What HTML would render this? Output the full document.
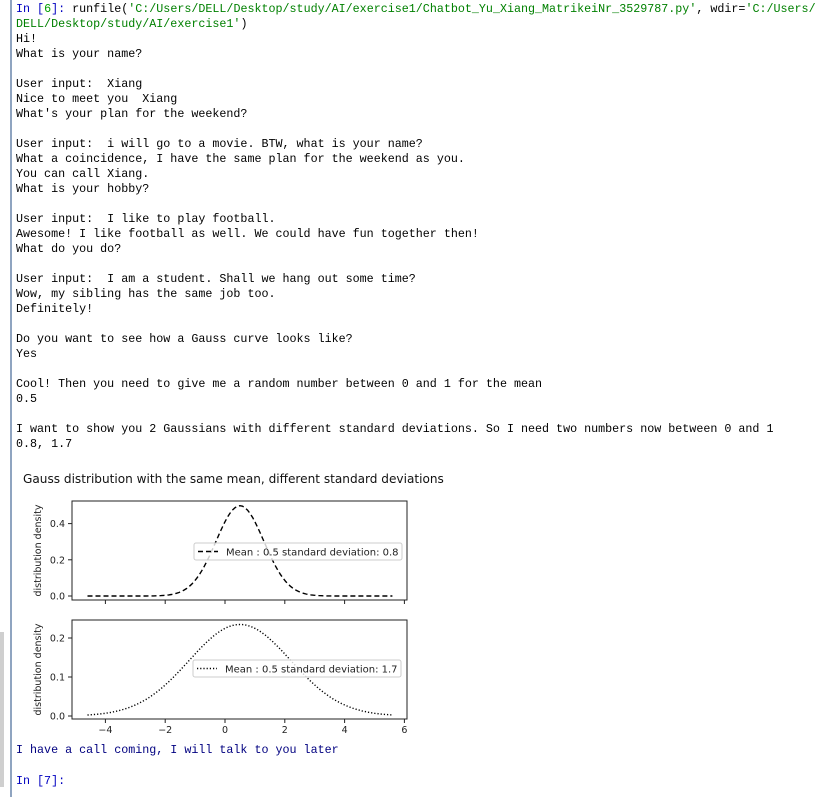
<!DOCTYPE html>
<html><head><meta charset="utf-8"><style>
body{margin:0;width:819px;height:797px;background:#fff;position:relative;overflow:hidden}
.l{position:absolute;left:16px;font-family:"Liberation Mono",monospace;font-size:11.7px;line-height:15px;white-space:pre;color:#000}
.g{color:#008000}.b{color:#0000c0}
</style></head><body>
<div style="position:absolute;left:10px;top:0;width:2px;height:797px;background:#8fa4c0"></div>
<div style="position:absolute;left:0;top:632px;width:4px;height:155px;background:#cfcfcf"></div>
<div>
<div class="l" style="top:2px"><span class="b">In [</span><span style="color:#00a000">6</span><span class="b">]:</span> runfile(<span class="g">'C:/Users/DELL/Desktop/study/AI/exercise1/Chatbot_Yu_Xiang_MatrikeiNr_3529787.py'</span>, wdir=<span class="g">'C:/Users/</span></div>
<div class="l" style="top:17px"><span class="g">DELL/Desktop/study/AI/exercise1'</span>)</div>
<div class="l" style="top:32px">Hi!
What is your name?

User input:  Xiang
Nice to meet you  Xiang
What's your plan for the weekend?

User input:  i will go to a movie. BTW, what is your name?
What a coincidence, I have the same plan for the weekend as you.
You can call Xiang.
What is your hobby?

User input:  I like to play football.
Awesome! I like football as well. We could have fun together then!
What do you do?

User input:  I am a student. Shall we hang out some time?
Wow, my sibling has the same job too.
Definitely!

Do you want to see how a Gauss curve looks like?
Yes

Cool! Then you need to give me a random number between 0 and 1 for the mean
0.5

I want to show you 2 Gaussians with different standard deviations. So I need two numbers now between 0 and 1
0.8, 1.7</div>
<div class="l" style="top:743px;color:#000080">I have a call coming, I will talk to you later</div>
<div class="l b" style="top:774px">In [7]:</div>
</div>
<svg id="chart" width="819" height="797" style="position:absolute;left:0;top:0" font-family="DejaVu Sans, sans-serif">
<text x="23" y="483" font-size="12.1" fill="#111">Gauss distribution with the same mean, different standard deviations</text>
</svg>
<script>
const means=[0.5,0.5];
const stds=[0.8,1.7];
const legendLabels=["Mean : 0.5 standard deviation: 0.8","Mean : 0.5 standard deviation: 1.7"];
const xTicks=[-4,-2,0,2,4,6];
const yTicks1=[0.0,0.2,0.4];
const yTicks2=[0.0,0.1,0.2];
const xRange=[-4.6,5.6];
const NS="http://www.w3.org/2000/svg",svg=document.getElementById('chart');
function mk(t,a,p){const e=document.createElementNS(NS,t);for(const k in a)e.setAttribute(k,a[k]);(p||svg).appendChild(e);return e;}
const sx=v=>225+v*29.9;
const panels=[{top:501,bot:600,y0:596,k:181,ticks:yTicks1,dash:"5,3",showX:false,lx:194,ly:543},
{top:620,bot:719,y0:716,k:390,ticks:yTicks2,dash:"1.2,2",showX:true,lx:193,ly:660}];
panels.forEach((p,i)=>{
 const sy=v=>p.y0-v*p.k;
 const g=mk('g',{});
 
 
 const fr=mk('rect',{x:72,y:p.top,width:335,height:p.bot-p.top,fill:'none',stroke:'#222','stroke-width':1},g);
 
 
 p.ticks.forEach(t=>{
  mk('line',{x1:68,x2:72,y1:sy(t),y2:sy(t),stroke:'#222'},g);
  const tx=mk('text',{x:65,y:sy(t)+3.5,'font-size':9.5,'text-anchor':'end',fill:'#222'},g);
  tx.textContent=t.toFixed(1);
  
  
 });
 xTicks.forEach(t=>{
  mk('line',{x1:sx(t),x2:sx(t),y1:p.bot,y2:p.bot+4,stroke:'#222'},g);
  if(p.showX){const tx=mk('text',{x:sx(t),y:p.bot+14,'font-size':9.5,'text-anchor':'middle',fill:'#222'},g);
   tx.textContent=t<0?'\u2212'+(-t):String(t);
   
   }
 });
 const yl=mk('text',{transform:`translate(41,${(p.top+p.bot)/2}) rotate(-90)`,'font-size':9.5,'text-anchor':'middle',fill:'#222'},g);
 yl.textContent='distribution density';
 
 
 let d='';const n=120;
 for(let j=0;j<=n;j++){const x=xRange[0]+(xRange[1]-xRange[0])*j/n;
  const y=Math.exp(-0.5*((x-means[i])/stds[i])**2)/(stds[i]*Math.sqrt(2*Math.PI));
  d+=(j?'L':'M')+sx(x).toFixed(1)+','+sy(y).toFixed(1);}
 const c=mk('path',{d:d,fill:'none',stroke:'#000','stroke-width':1.4,'stroke-dasharray':p.dash},g);
 
 
 const lg=mk('g',{},g);
 
 
 mk('rect',{x:p.lx,y:p.ly,width:208,height:17,rx:2,fill:'#fff','fill-opacity':0.8,stroke:'#ccc'},lg);
 mk('line',{x1:p.lx+4,x2:p.lx+24,y1:p.ly+8.5,y2:p.ly+8.5,stroke:'#000','stroke-width':1.4,'stroke-dasharray':p.dash},lg);
 const lt=mk('text',{x:p.lx+32,y:p.ly+12.5,'font-size':10,fill:'#222'},lg);
 lt.textContent=legendLabels[i];
});
</script>
</body></html>
